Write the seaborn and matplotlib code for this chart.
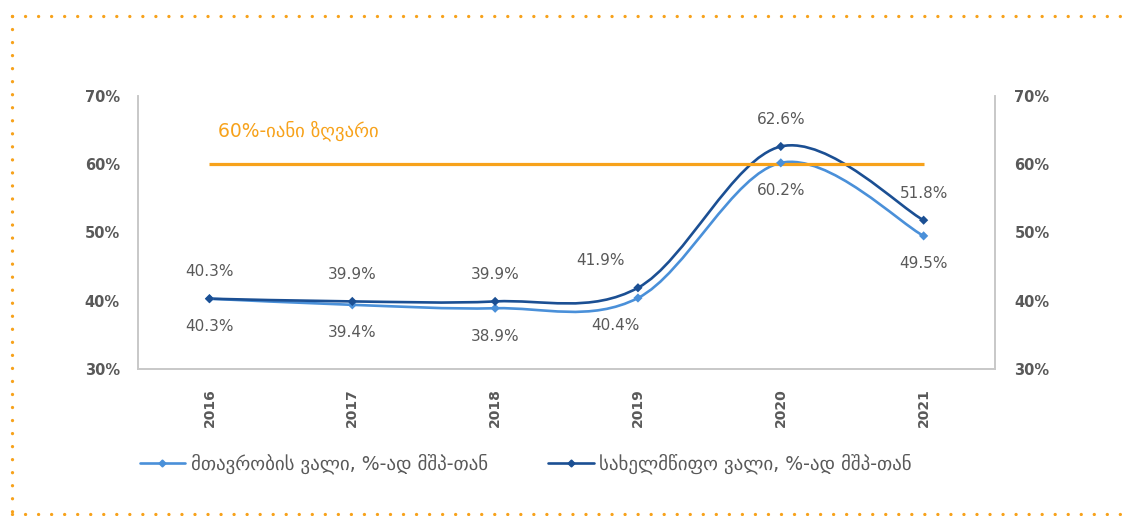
import numpy as np
import pandas as pd
import seaborn as sns
from matplotlib import pyplot as plt
from matplotlib.lines import Line2D
from matplotlib.path import Path
from matplotlib.patches import PathPatch

years = ["2016", "2017", "2018", "2019", "2020", "2021"]
gov_debt = [40.3, 39.4, 38.9, 40.4, 60.2, 49.5]
state_debt = [40.3, 39.9, 39.9, 41.9, 62.6, 51.8]
threshold = [60, 60, 60, 60, 60, 60]

gov_name = "მთავრობის ვალი, %-ად მშპ-თან"
state_name = "სახელმწიფო ვალი, %-ად მშპ-თან"
threshold_name = "60%-იანი ზღვარი"

c_gov = "#4A90D9"
c_state = "#1B4F93"
c_orange = "#F7A21B"
c_text = "#595959"

sns.set_style("white")
plt.rcParams["font.family"] = ["DejaVu Sans"]

df = pd.DataFrame({
    "pos": list(range(len(years))) * 2,
    "value": gov_debt + state_debt,
    "series": [gov_name] * len(years) + [state_name] * len(years),
})


def smooth_path(xs, ys):
    # excel style smoothed line: catmull-rom segments as cubic beziers
    pts = np.column_stack([xs, ys]).astype(float)
    n = len(pts)
    verts = [pts[0]]
    codes = [Path.MOVETO]
    for i in range(n - 1):
        p0 = pts[i - 1] if i > 0 else pts[i]
        p1 = pts[i]
        p2 = pts[i + 1]
        p3 = pts[i + 2] if i + 2 < n else pts[i + 1]
        verts += [p1 + (p2 - p0) / 6, p2 - (p3 - p1) / 6, p2]
        codes += [Path.CURVE4] * 3
    return Path(verts, codes)


fig = plt.figure(figsize=(11.26, 5.16), dpi=100)
ax = fig.add_axes([0.1226, 0.2849, 0.7611, 0.5291])

x = np.arange(len(years))
ax.plot(x, threshold, color=c_orange, lw=2.3, solid_capstyle="butt")

for vals, col in [(gov_debt, c_gov), (state_debt, c_state)]:
    ax.add_patch(PathPatch(smooth_path(x, vals), facecolor="none",
                           edgecolor=col, lw=1.9))

sns.scatterplot(data=df, x="pos", y="value", hue="series",
                palette=[c_gov, c_state], marker="D", s=22,
                edgecolor="none", legend=False, ax=ax, zorder=3)

ax.set_xlim(-0.5, len(years) - 0.5)
ax.set_ylim(30, 70)
ax.set_yticks([30, 40, 50, 60, 70])
ax.set_yticklabels([f"{v}%" for v in [30, 40, 50, 60, 70]])
ax.set_xticks(x)
ax.set_xticklabels(years, rotation=90)
ax.set_xlabel("")
ax.set_ylabel("")
ax.tick_params(axis="y", length=0, colors=c_text, labelsize=10.5, pad=13)
ax.tick_params(axis="x", length=0, colors=c_text, labelsize=10, pad=14)
for lab in ax.get_yticklabels() + ax.get_xticklabels():
    lab.set_fontweight("bold")

ax2 = ax.twinx()
ax2.set_ylim(30, 70)
ax2.set_yticks([30, 40, 50, 60, 70])
ax2.set_yticklabels([f"{v}%" for v in [30, 40, 50, 60, 70]])
ax2.tick_params(axis="y", length=0, colors=c_text, labelsize=10.5, pad=14)
for lab in ax2.get_yticklabels():
    lab.set_fontweight("bold")

for a in (ax, ax2):
    a.spines["top"].set_visible(False)
    for s in ("left", "right", "bottom"):
        a.spines[s].set_color("#C8C8C8")
        a.spines[s].set_linewidth(1.2)

# data labels
gov_dx = [0, 0, 0, -16, 0, 0]
state_dx = [0, 0, 0, -27, 0, 0]
for i in range(len(years)):
    ax.annotate(f"{gov_debt[i]:.1f}%", (x[i], gov_debt[i]),
                xytext=(gov_dx[i], -20), textcoords="offset points",
                ha="center", va="center", fontsize=11, color=c_text)
    ax.annotate(f"{state_debt[i]:.1f}%", (x[i], state_debt[i]),
                xytext=(state_dx[i], 19.5), textcoords="offset points",
                ha="center", va="center", fontsize=11, color=c_text)

ax.annotate(threshold_name, (0, 60), xytext=(6, 24), textcoords="offset points",
            ha="left", va="center", fontsize=13.5, color=c_orange)

handles = [
    Line2D([], [], color=c_gov, lw=1.9, marker="D", markersize=3.5),
    Line2D([], [], color=c_state, lw=1.9, marker="D", markersize=3.5),
]
fig.legend(handles, [gov_name, state_name], loc="center",
           bbox_to_anchor=(0.467, 0.1008), ncol=2, frameon=False,
           fontsize=13.6, labelcolor=c_text, handlelength=2.4,
           handletextpad=0.3, columnspacing=3.2)

# dotted orange frame
frame_kw = dict(color=c_orange, lw=2.4, linestyle=(0, (0.01, 3.9)),
                dash_capstyle="round", transform=fig.transFigure)
fig.add_artist(Line2D([12 / 1126, 1], [1 - 16 / 516, 1 - 16 / 516], **frame_kw))
fig.add_artist(Line2D([12 / 1126, 12 / 1126], [1 - 16 / 516, 2 / 516], **frame_kw))
fig.add_artist(Line2D([12 / 1126, 1], [2 / 516, 2 / 516], **frame_kw))

fig.savefig("out.png", dpi=100)
